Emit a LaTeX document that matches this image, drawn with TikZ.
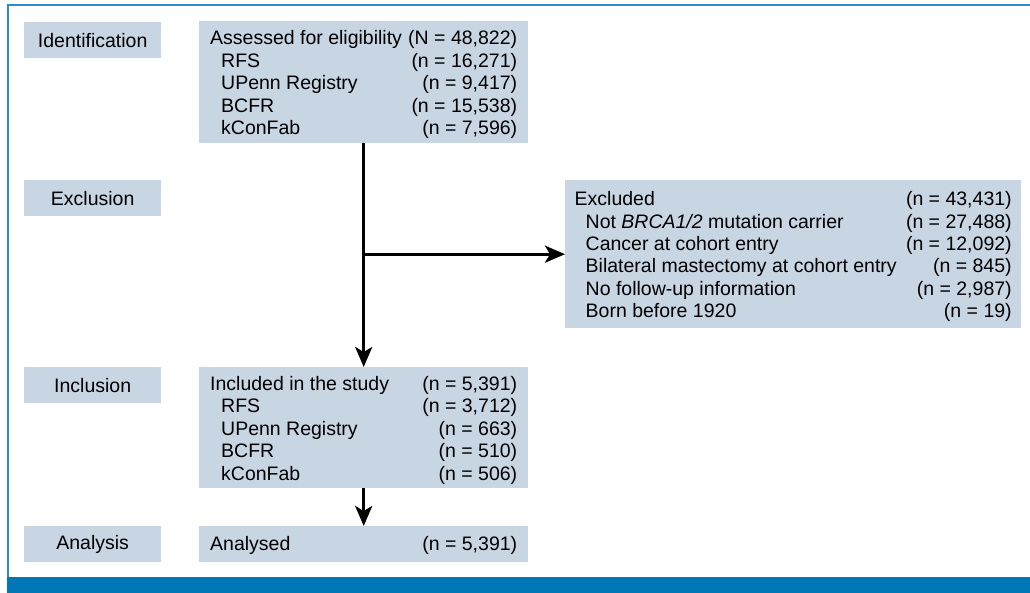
\documentclass[tikz,border=0pt]{standalone}
\usepackage{fontspec}
\setmainfont{Liberation Sans}
\usetikzlibrary{arrows.meta}
\definecolor{boxfill}{RGB}{200,213,226}
\definecolor{frameblue}{RGB}{0,119,182}
\definecolor{framelight}{RGB}{40,140,205}
\newcommand\rw[3]{\makebox[#1][l]{#2\hfill#3}}
\begin{document}
\begin{tikzpicture}[x=1pt,y=-1pt,
  every node/.style={font=\fontsize{19.5}{22.4}\selectfont},
  stage/.style={fill=boxfill, minimum width=137pt, minimum height=36pt, inner sep=0pt, anchor=north west},
  infobox/.style={fill=boxfill, inner sep=0pt, anchor=north west},
  infotext/.style={inner sep=0pt, align=left, yshift=-2.5pt},
  flow/.style={line width=3pt, -{Stealth[length=20pt,width=17pt,inset=5pt]}}]
\useasboundingbox (0,0) rectangle (1030,593);
\fill[frameblue] (7,577) rectangle (1030,593);
\draw[framelight, line width=2pt] (7.5,577) -- (7.5,5.5) -- (1030,5.5);

\node[stage] (sid) at (24,22) {Identification};
\node[stage] (sex) at (24,180) {Exclusion};
\node[stage] (sin) at (24,367) {Inclusion};
\node[stage] (san) at (24,526) {Analysis};

\node[infobox, minimum width=329pt, minimum height=122pt] (assess) at (199,21) {};
\node[infotext] (assesstxt) at (assess.center) {%
\rw{307pt}{Assessed for eligibility}{(N = 48,822)}\\
\hspace*{11pt}\rw{296pt}{RFS}{(n = 16,271)}\\
\hspace*{11pt}\rw{296pt}{UPenn Registry}{(n = 9,417)}\\
\hspace*{11pt}\rw{296pt}{BCFR}{(n = 15,538)}\\
\hspace*{11pt}\rw{296pt}{kConFab}{(n = 7,596)}};

\node[infobox, minimum width=456pt, minimum height=148pt] (excl) at (565,180) {};
\node[infotext] (excltxt) at (excl.center) {%
\rw{437pt}{Excluded}{(n = 43,431)}\\
\hspace*{11pt}\rw{426pt}{Not \textit{BRCA1/2} mutation carrier}{(n = 27,488)}\\
\hspace*{11pt}\rw{426pt}{Cancer at cohort entry}{(n = 12,092)}\\
\hspace*{11pt}\rw{426pt}{Bilateral mastectomy at cohort entry}{(n = 845)}\\
\hspace*{11pt}\rw{426pt}{No follow-up information}{(n = 2,987)}\\
\hspace*{11pt}\rw{426pt}{Born before 1920}{(n = 19)}};

\node[infobox, minimum width=329pt, minimum height=121pt] (incl) at (199,367) {};
\node[infotext] (incltxt) at (incl.center) {%
\rw{307pt}{Included in the study}{(n = 5,391)}\\
\hspace*{11pt}\rw{296pt}{RFS}{(n = 3,712)}\\
\hspace*{11pt}\rw{296pt}{UPenn Registry}{(n = 663)}\\
\hspace*{11pt}\rw{296pt}{BCFR}{(n = 510)}\\
\hspace*{11pt}\rw{296pt}{kConFab}{(n = 506)}};

\node[infobox, minimum width=329pt, minimum height=36pt] (anal) at (199,526) {};
\node[infotext, yshift=1.5pt] (analtxt) at (anal.center) {%
\rw{307pt}{Analysed}{(n = 5,391)}};

\draw[flow] (assess.south) -- (incl.north);
\coordinate (j) at (assess.south |- excl.west);
\draw[flow] (j) -- (excl.west);
\draw[flow] (incl.south) -- (anal.north);
\end{tikzpicture}
\end{document}
